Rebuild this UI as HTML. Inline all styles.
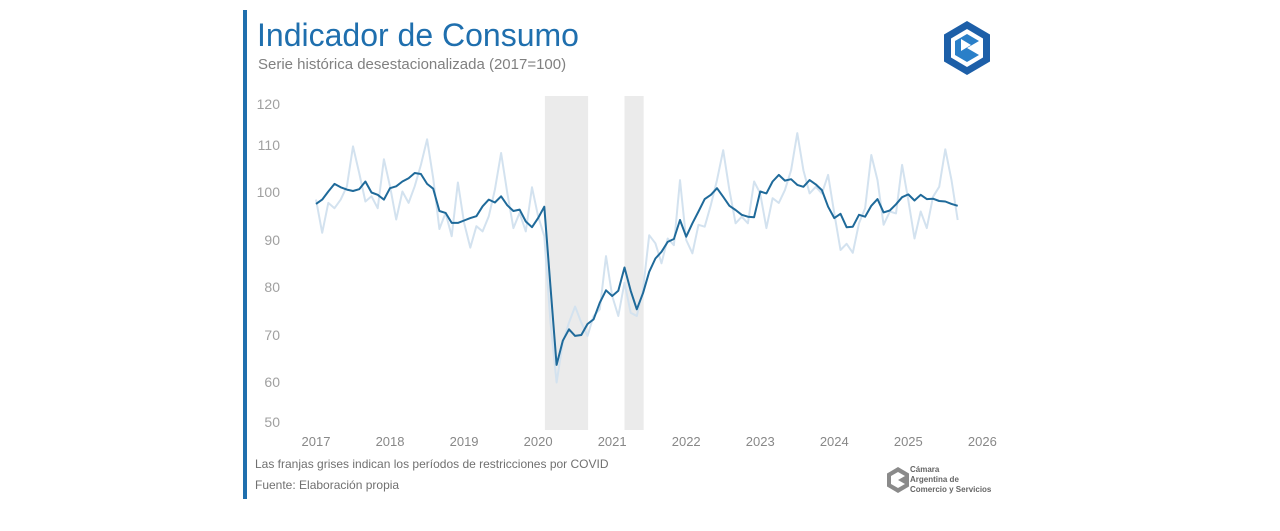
<!DOCTYPE html>
<html><head><meta charset="utf-8">
<style>
html,body{margin:0;padding:0;background:#fff;width:1280px;height:531px;overflow:hidden;font-family:"Liberation Sans",Arial,sans-serif;}
svg{position:absolute;left:0;top:0;}
</style></head>
<body>
<svg id="chart" width="1280" height="531" viewBox="0 0 1280 531">
  <rect x="243" y="10" width="4" height="489" fill="#1f6fae"/>
  <text x="257" y="46" font-size="32" fill="#1f6fae">Indicador de Consumo</text>
  <text x="258" y="69" font-size="15" fill="#808080">Serie histórica desestacionalizada (2017=100)</text>
  <g transform="translate(967,48)">
    <polygon points="0,-27 23,-13.5 23,13.5 0,27 -23,13.5 -23,-13.5" fill="#1d5fa8"/>
    <polygon points="0,-19 16,-9.5 16,9.5 0,19 -16,9.5 -16,-9.5" fill="#fff"/>
    <polygon points="0,-14 12,-7 12,7 0,14 -12,7 -12,-7" fill="#2a7fc8"/>
    <polygon points="12,-7 12,7 0,0" fill="#fff"/>
    <polygon points="-6,-9 4,-3 -6,3" fill="#fff"/>
  </g>
  <g id="bands"></g>
  <g id="yticks"></g>
  <g id="xticks"></g>
  <g id="lines"></g>
  <text x="255" y="468" font-size="12" fill="#707070">Las franjas grises indican los períodos de restricciones por COVID</text>
  <text x="255" y="489" font-size="12" fill="#707070">Fuente: Elaboración propia</text>
  <g transform="translate(898,480)">
    <polygon points="0,-13 11,-6.5 11,6.5 0,13 -11,6.5 -11,-6.5" fill="#8a8a8a"/>
    <polygon points="0,-8 7,-4 7,4 0,8 -7,4 -7,-4" fill="#fff"/>
    <polygon points="7,-4 7,4 0,0" fill="#8a8a8a"/>
  </g>
  <text x="910" y="472" font-size="8" font-weight="bold" fill="#666">Cámara</text>
  <text x="910" y="482" font-size="8" font-weight="bold" fill="#666">Argentina de</text>
  <text x="910" y="492" font-size="8" font-weight="bold" fill="#666">Comercio y Servicios</text>
</svg>
<script>
const yTickValues=[120,110,100,90,80,70,60,50];
const yTickPos=[104,145,192,240,287,335,382,422];
const xYears=["2017","2018","2019","2020","2021","2022","2023","2024","2025","2026"];
const trend=[97.5,98.4,100.1,101.7,101.0,100.5,100.2,100.6,102.2,99.9,99.4,98.4,100.8,101.2,102.2,102.9,104.0,103.8,101.7,100.7,96.0,95.6,93.5,93.5,94.0,94.5,94.9,97.0,98.4,97.8,99.1,97.2,96.0,96.3,93.8,92.6,94.5,96.9,80.0,63.6,68.7,71.1,69.7,69.9,72.2,73.2,76.7,79.3,78.1,79.2,84.1,79.2,75.3,78.7,83.2,86.0,87.4,89.5,90.1,94.1,90.6,93.4,95.9,98.5,99.4,100.8,99.0,97.1,96.2,95.2,94.8,94.7,100.1,99.7,102.2,103.6,102.4,102.7,101.5,101.1,102.5,101.6,100.4,96.9,94.5,95.4,92.6,92.7,95.2,94.8,97.1,98.5,95.7,96.1,97.4,98.9,99.5,98.2,99.4,98.5,98.6,98.1,98.0,97.5,97.1];
const raw=[98.4,91.4,97.7,96.6,98.4,101.2,109.6,104.0,98.0,99.1,96.6,106.9,101.2,94.2,100.1,97.7,101.2,105.7,111.1,102.9,92.2,95.6,90.7,102.0,93.5,88.3,92.8,91.7,94.9,100.5,108.2,99.8,92.4,95.6,91.7,101.0,94.9,90.7,72.5,59.9,68.3,72.5,75.9,72.5,69.7,73.9,75.3,86.5,78.1,73.9,80.9,74.6,73.9,79.4,90.9,89.2,85.0,90.2,88.8,102.5,89.9,87.1,93.1,92.7,97.3,102.5,108.8,100.4,93.4,94.8,93.4,102.2,99.7,92.4,98.7,97.7,100.4,104.6,112.4,104.6,99.7,101.1,99.7,103.6,95.5,87.8,89.1,87.2,93.4,96.6,107.8,102.5,93.1,95.9,95.5,105.7,98.3,90.2,95.9,92.4,99.0,101.1,109.0,102.5,94.1];
const covidBands=[[37.1,44.1],[50.0,53.1]];
const NS="http://www.w3.org/2000/svg";
const x=i=>316+i*6.17;
const y=v=>192+(100-v)*4.75;
const mk=(t,a,p)=>{const e=document.createElementNS(NS,t);for(const k in a)e.setAttribute(k,a[k]);p.appendChild(e);return e;};
const bands=document.getElementById('bands');
covidBands.forEach(b=>{
  const r=mk('rect',{x:x(b[0]),y:96,width:x(b[1])-x(b[0]),height:334,fill:'#ebebeb'},bands);
  
  
});
const yt=document.getElementById('yticks');
yTickValues.forEach((v,i)=>{
  const t=mk('text',{x:280,y:yTickPos[i]+5,'font-size':14,fill:'#a0a0a0','text-anchor':'end'},yt);
  t.textContent=v;
  
  
});
const xt=document.getElementById('xticks');
xYears.forEach((s,i)=>{
  const t=mk('text',{x:x(i*12),y:446,'font-size':13,fill:'#888','text-anchor':'middle'},xt);
  t.textContent=s;
  
  
});
const lines=document.getElementById('lines');
const pts=a=>a.map((v,i)=>x(i).toFixed(1)+','+y(v).toFixed(1)).join(' ');
const l1=mk('polyline',{points:pts(raw),fill:'none',stroke:'#d3e2ef','stroke-width':2,'stroke-linejoin':'round'},lines);


const l2=mk('polyline',{points:pts(trend),fill:'none',stroke:'#1f6a9a','stroke-width':2,'stroke-linejoin':'round'},lines);


</script>
</body></html>
